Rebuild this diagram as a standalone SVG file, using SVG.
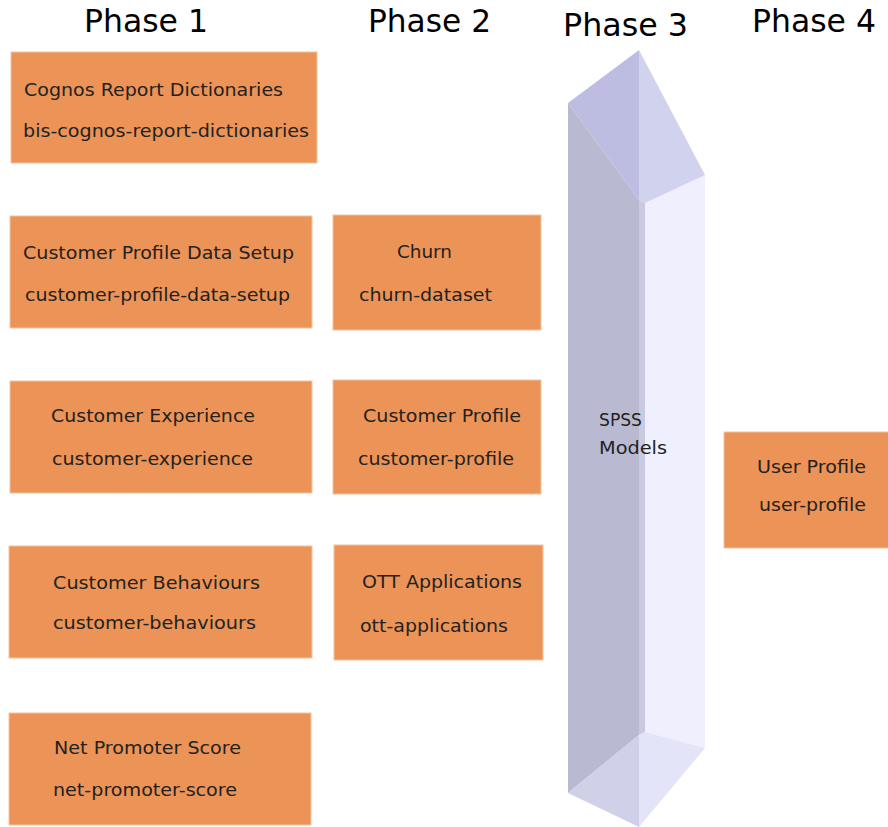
<svg xmlns="http://www.w3.org/2000/svg" width="888" height="827" viewBox="0 0 888 827">
<style>
.box{fill:#ec9357;stroke:#f4c4a2;stroke-width:1}
.t{font-family:"DejaVu Sans","Liberation Sans",sans-serif;font-size:18px;fill:#222}
.ph{font-family:"DejaVu Sans","Liberation Sans",sans-serif;font-size:32px;fill:#000}
</style>
<rect width="888" height="827" fill="#fff"/>
<g id="headers">
<text class="ph" x="84" y="32" textLength="124" lengthAdjust="spacingAndGlyphs">Phase 1</text>
<text class="ph" x="368" y="32" textLength="123" lengthAdjust="spacingAndGlyphs">Phase 2</text>
<text class="ph" x="563" y="36" textLength="125" lengthAdjust="spacingAndGlyphs">Phase 3</text>
<text class="ph" x="752" y="32" textLength="124" lengthAdjust="spacingAndGlyphs">Phase 4</text>
</g>
<g id="spss">
<polygon points="568,103 639,200 639,735 568,793" fill="#b9bad2"/>
<polygon points="639,200 645,203 645,732 639,735" fill="#c9cadf"/>
<polygon points="645,203 705,175 705,748 645,732" fill="#efeffd"/>
<polygon points="568,103 639,50 639,200" fill="#bcbde0"/>
<polygon points="639,50 705,175 645,203 639,200" fill="#d1d2ee"/>
<polygon points="568,793 639,735 639,827" fill="#d0d1e9"/>
<polygon points="639,735 645,732 705,748 639,827" fill="#e3e4f8"/>
<text class="t" x="599" y="426" fill="#333" textLength="43" lengthAdjust="spacingAndGlyphs">SPSS</text>
<text class="t" x="599" y="454" fill="#333" textLength="68" lengthAdjust="spacingAndGlyphs">Models</text>
</g>
<g id="cognos">
<rect class="box" x="11" y="52" width="306" height="111"/>
<text class="t" x="24" y="96" textLength="259" lengthAdjust="spacingAndGlyphs">Cognos Report Dictionaries</text>
<text class="t" x="23" y="137" textLength="286" lengthAdjust="spacingAndGlyphs">bis-cognos-report-dictionaries</text>
</g>
<g id="cpds">
<rect class="box" x="10" y="216" width="302" height="112"/>
<text class="t" x="23" y="259" textLength="271" lengthAdjust="spacingAndGlyphs">Customer Profile Data Setup</text>
<text class="t" x="25" y="301" textLength="265" lengthAdjust="spacingAndGlyphs">customer-profile-data-setup</text>
</g>
<g id="cx">
<rect class="box" x="10" y="381" width="302" height="112"/>
<text class="t" x="51" y="422" textLength="204" lengthAdjust="spacingAndGlyphs">Customer Experience</text>
<text class="t" x="52" y="465" textLength="201" lengthAdjust="spacingAndGlyphs">customer-experience</text>
</g>
<g id="cb">
<rect class="box" x="9" y="546" width="303" height="112"/>
<text class="t" x="53" y="589" textLength="207" lengthAdjust="spacingAndGlyphs">Customer Behaviours</text>
<text class="t" x="53" y="629" textLength="203" lengthAdjust="spacingAndGlyphs">customer-behaviours</text>
</g>
<g id="nps">
<rect class="box" x="9" y="713" width="302" height="112"/>
<text class="t" x="54" y="754" textLength="187" lengthAdjust="spacingAndGlyphs">Net Promoter Score</text>
<text class="t" x="53" y="796" textLength="184" lengthAdjust="spacingAndGlyphs">net-promoter-score</text>
</g>
<g id="churn">
<rect class="box" x="333" y="215" width="208" height="115"/>
<text class="t" x="397" y="258" textLength="55" lengthAdjust="spacingAndGlyphs">Churn</text>
<text class="t" x="359" y="301" textLength="133" lengthAdjust="spacingAndGlyphs">churn-dataset</text>
</g>
<g id="cp">
<rect class="box" x="333" y="380" width="208" height="114"/>
<text class="t" x="363" y="422" textLength="158" lengthAdjust="spacingAndGlyphs">Customer Profile</text>
<text class="t" x="358" y="465" textLength="156" lengthAdjust="spacingAndGlyphs">customer-profile</text>
</g>
<g id="ott">
<rect class="box" x="334" y="545" width="209" height="115"/>
<text class="t" x="362" y="588" textLength="160" lengthAdjust="spacingAndGlyphs">OTT Applications</text>
<text class="t" x="360" y="632" textLength="148" lengthAdjust="spacingAndGlyphs">ott-applications</text>
</g>
<g id="up">
<rect class="box" x="724" y="432" width="166" height="116"/>
<text class="t" x="757" y="473" textLength="109" lengthAdjust="spacingAndGlyphs">User Profile</text>
<text class="t" x="759" y="511" textLength="107" lengthAdjust="spacingAndGlyphs">user-profile</text>
</g>
<g id="connectors"/>
</svg>
